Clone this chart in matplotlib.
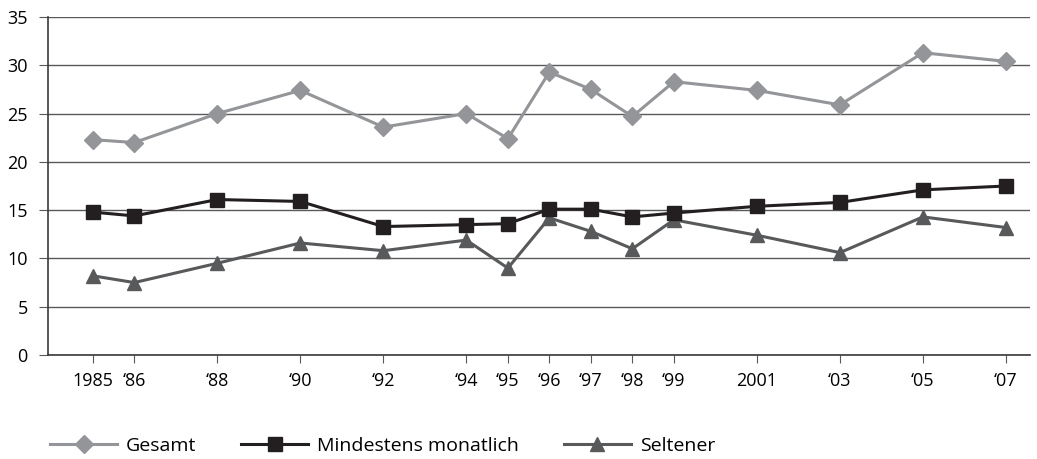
import matplotlib
matplotlib.use("Agg")
import matplotlib.pyplot as plt

# data
years = [1985, 1986, 1988, 1990, 1992, 1994, 1995, 1996, 1997, 1998, 1999, 2001, 2003, 2005, 2007]
year_labels = ["1985", "\u201886", "\u201888", "\u201890", "\u201892", "\u201894", "\u201895",
               "\u201896", "\u201897", "\u201898", "\u201899", "2001", "\u201803", "\u201805", "\u201807"]
gesamt = [22.3, 22.0, 25.0, 27.4, 23.6, 25.0, 22.4, 29.3, 27.5, 24.7, 28.3, 27.4, 25.9, 31.3, 30.4]
monatlich = [14.8, 14.4, 16.1, 15.9, 13.3, 13.5, 13.6, 15.1, 15.1, 14.3, 14.7, 15.4, 15.8, 17.1, 17.5]
seltener = [8.2, 7.5, 9.5, 11.6, 10.8, 11.9, 9.0, 14.2, 12.8, 11.0, 14.0, 12.4, 10.6, 14.3, 13.2]

plt.rcParams["font.family"] = ["Open Sans", "DejaVu Sans"]

fig = plt.figure(figsize=(10.37, 4.59), dpi=100)
ax = fig.add_axes([48 / 1037, 1 - 355 / 459, (1030 - 48) / 1037, (355 - 17) / 459])

ax.plot(years, gesamt, color="#939598", lw=2.2, marker="D", ms=9, label="Gesamt", zorder=3)
ax.plot(years, monatlich, color="#231f20", lw=2.2, marker="s", ms=10, label="Mindestens monatlich", zorder=4)
ax.plot(years, seltener, color="#58595b", lw=2.2, marker="^", ms=10, label="Seltener", zorder=3)

ax.set_xlim(1983.92, 2007.58)
ax.set_ylim(0, 35)
ax.set_yticks(range(0, 36, 5))
ax.set_xticks(years)
ax.set_xticklabels(year_labels)

ax.grid(axis="y", color="#58595b", lw=1)
ax.set_axisbelow(True)
for side in ["top", "right"]:
    ax.spines[side].set_visible(False)
for side in ["left", "bottom"]:
    ax.spines[side].set_color("#3a3a3a")
    ax.spines[side].set_linewidth(1.2)

ax.tick_params(axis="y", length=6.5, color="#58595b", labelsize=13, pad=8)
ax.tick_params(axis="x", length=5.5, color="#58595b", labelsize=13, pad=7)

fig.legend(loc="center left", bbox_to_anchor=(50 / 1037, 1 - 446 / 459), ncol=3, frameon=False,
           fontsize=14, handlelength=3.45, handletextpad=0.46, columnspacing=2.3, borderpad=0,
           borderaxespad=0)

fig.savefig("out.png", dpi=100)
